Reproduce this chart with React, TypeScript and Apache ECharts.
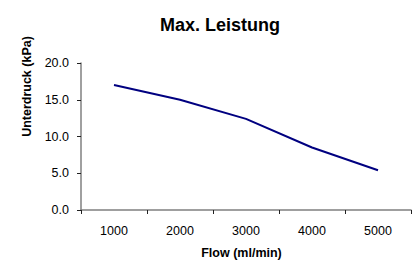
import React, { useEffect, useRef } from "react";
import * as echarts from "echarts";

const categories = ["1000", "2000", "3000", "4000", "5000"];
const values = [17.0, 15.0, 12.4, 8.5, 5.4];
const title = "Max. Leistung";
const xName = "Flow (ml/min)";
const yName = "Unterdruck (kPa)";

export default function App() {
  const ref = useRef<HTMLDivElement>(null);
  useEffect(() => {
    const chart = echarts.init(ref.current!, null, { renderer: "svg" });
    const font = "Arial, 'Liberation Sans', sans-serif";
    chart.setOption({
      animation: false,
      backgroundColor: "#fff",
      title: {
        text: title,
        left: 215,
        textAlign: "center",
        top: 11,
        textStyle: { fontFamily: font, fontSize: 18, fontWeight: "bold", color: "#000" },
      },
      grid: { left: 81, right: 6, top: 63, bottom: 51 },
      xAxis: {
        type: "category",
        data: categories,
        boundaryGap: true,
        axisLine: { lineStyle: { color: "#808080", width: 1.5 } },
        axisTick: { show: true, length: 4, lineStyle: { color: "#222", width: 1 } },
        axisLabel: { fontFamily: font, fontSize: 12.5, color: "#000", margin: 14 },
        splitLine: { show: false },
      },
      yAxis: {
        type: "value",
        min: 0,
        max: 20,
        interval: 5,
        axisLine: { show: true, lineStyle: { color: "#808080", width: 1.5 } },
        axisTick: { show: true, length: 4, lineStyle: { color: "#222", width: 1 } },
        axisLabel: { fontFamily: font, fontSize: 12.5, color: "#000", margin: 12, formatter: (v: number) => v.toFixed(1) },
        splitLine: { show: false },
      },
      graphic: [
        {
          type: "text",
          x: 27,
          y: 86.5,
          rotation: Math.PI / 2,
          style: {
            text: yName,
            fontFamily: font,
            fontSize: 12.5,
            fontWeight: "bold",
            fill: "#000",
            align: "center",
            verticalAlign: "middle",
          },
        },
        {
          type: "text",
          x: 241.5,
          y: 253,
          style: {
            text: xName,
            fontFamily: font,
            fontSize: 12.5,
            fontWeight: "bold",
            fill: "#000",
            align: "center",
            verticalAlign: "middle",
          },
        },
      ],
      series: [
        {
          type: "line",
          data: values,
          symbol: "none",
          lineStyle: { color: "#000080", width: 2 },
        },
      ],
    });
    return () => chart.dispose();
  }, []);
  return <div ref={ref} style={{ width: 417, height: 261, position: "absolute", left: 0, top: 0 }} />;
}
